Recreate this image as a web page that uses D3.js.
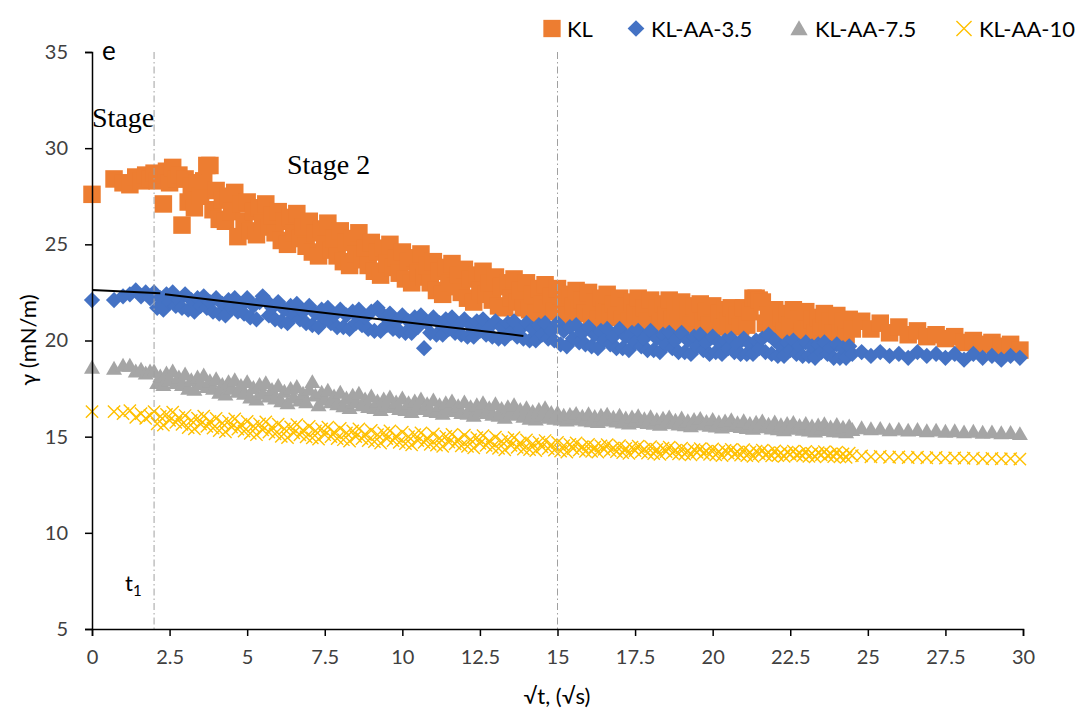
<!DOCTYPE html>
<html>
<head>
<meta charset="utf-8">
<script src="https://cdn.jsdelivr.net/npm/d3@7"></script>
<style>
  html, body { margin: 0; padding: 0; background: #fff; }
  svg { display: block; }
</style>
</head>
<body>
<svg id="chart" width="1082" height="717"></svg>
<script>
// ---------- DATA ----------
const seriesNames = ["KL", "KL-AA-3.5", "KL-AA-7.5", "KL-AA-10"];
const xTicks = [0, 2.5, 5, 7.5, 10, 12.5, 15, 17.5, 20, 22.5, 25, 27.5, 30];
const xTickLabels = ["0", "2.5", "5", "7.5", "10", "12.5", "15", "17.5", "20", "22.5", "25", "27.5", "30"];
const yTicks = [5, 10, 15, 20, 25, 30, 35];
const yTickLabels = ["5", "10", "15", "20", "25", "30", "35"];

// √t sampling shared by all series (dense up to 24.5, sparser after)
const xs = [0,0.71,1,1.22,1.41,1.58,1.73,1.87,
  2.0,2.1,2.2,2.3,2.4,2.5,2.6,2.7,2.8,2.9,
  3.0,3.1,3.2,3.3,3.4,3.5,3.6,3.7,3.8,3.9,
  4.0,4.1,4.2,4.3,4.4,4.5,4.6,4.7,4.8,4.9,
  5.0,5.1,5.2,5.3,5.4,5.5,5.6,5.7,5.8,5.9,
  6.0,6.1,6.2,6.3,6.4,6.5,6.6,6.7,6.8,6.9,
  7.0,7.1,7.2,7.3,7.4,7.5,7.6,7.7,7.8,7.9,
  8.0,8.1,8.2,8.3,8.4,8.5,8.6,8.7,8.8,8.9,
  9.0,9.1,9.2,9.3,9.4,9.5,9.6,9.7,9.8,9.9,
  10.0,10.1,10.2,10.3,10.4,10.5,10.6,10.7,10.8,10.9,
  11.0,11.1,11.2,11.3,11.4,11.5,11.6,11.7,11.8,11.9,
  12.0,12.1,12.2,12.3,12.4,12.5,12.6,12.7,12.8,12.9,
  13.0,13.1,13.2,13.3,13.4,13.5,13.6,13.7,13.8,13.9,
  14.0,14.1,14.2,14.3,14.4,14.5,14.6,14.7,14.8,14.9,
  15.0,15.1,15.2,15.3,15.4,15.5,15.6,15.7,15.8,15.9,
  16.0,16.1,16.2,16.3,16.4,16.5,16.6,16.7,16.8,16.9,
  17.0,17.1,17.2,17.3,17.4,17.5,17.6,17.7,17.8,17.9,
  18.0,18.1,18.2,18.3,18.4,18.5,18.6,18.7,18.8,18.9,
  19.0,19.1,19.2,19.3,19.4,19.5,19.6,19.7,19.8,19.9,
  20.0,20.1,20.2,20.3,20.4,20.5,20.6,20.7,20.8,20.9,
  21.0,21.1,21.2,21.3,21.4,21.5,21.6,21.7,21.8,21.9,
  22.0,22.1,22.2,22.3,22.4,22.5,22.6,22.7,22.8,22.9,
  23.0,23.1,23.2,23.3,23.4,23.5,23.6,23.7,23.8,23.9,
  24.0,24.1,24.2,24.3,24.4,24.5,
  24.8,25.1,25.4,25.7,26.0,26.3,26.6,26.9,27.2,27.5,27.8,28.1,28.4,28.7,29.0,29.3,29.6,29.9];

const yKL = [27.6,28.4,28.2,28.1,28.5,28.3,28.6,28.4,
  28.7,28.3,28.6,27.1,28.8,28.2,29.0,28.4,28.6,26.0,
  28.4,27.2,28.0,26.9,28.2,27.5,28.3,29.1,29.1,26.8,
  27.8,26.3,27.3,26.2,27.5,26.7,27.7,25.4,27.1,26.2,
  27.2,25.7,26.7,25.5,26.9,26.1,27.1,25.9,26.5,25.6,
  26.7,25.2,26.2,25.0,26.4,25.6,26.6,25.3,25.9,24.9,
  26.2,24.6,25.6,24.4,25.8,25.0,26.1,24.7,25.3,24.4,
  25.7,24.1,25.1,23.9,25.3,24.5,25.6,24.2,24.8,23.9,
  25.1,23.6,24.6,23.4,24.8,24.0,25.0,23.8,24.3,23.5,
  24.6,23.2,24.1,23.0,24.3,23.5,24.5,23.3,23.9,23.0,
  24.1,22.6,23.6,22.4,23.8,23.0,24.0,22.8,23.4,22.5,
  23.7,22.2,23.2,22.0,23.4,22.6,23.6,22.4,23.0,22.1,
  23.3,21.8,22.8,21.7,23.0,22.2,23.2,22.0,22.6,21.7,
  23.0,21.6,22.4,21.4,22.7,21.9,22.9,21.7,22.3,21.5,
  22.7,21.4,22.2,21.3,22.4,21.8,22.6,21.6,22.1,21.4,
  22.5,21.2,22.0,21.1,22.2,21.6,22.4,21.4,21.9,21.2,
  22.2,21.1,21.8,21.0,22.0,21.4,22.2,21.2,21.7,21.0,
  22.1,21.0,21.7,20.9,21.9,21.3,22.1,21.1,21.6,20.9,
  22.0,20.9,21.6,20.8,21.8,21.2,21.9,21.0,21.5,20.8,
  21.8,20.8,21.4,20.7,21.6,21.0,21.7,20.9,21.3,20.7,
  21.7,20.8,21.5,22.2,22.2,22.1,22.0,20.9,21.3,20.6,
  21.6,20.6,21.2,20.5,21.4,20.8,21.6,20.7,21.1,20.5,
  21.5,20.5,21.1,20.4,21.2,20.7,21.4,20.6,21.0,20.4,
  21.3,20.4,21.0,20.3,21.1,20.6,
  21.0,20.6,20.9,20.4,20.7,20.3,20.5,20.2,20.3,20.1,20.2,19.9,20.0,19.8,19.9,19.7,19.8,19.5];

const yAA35 = [22.1,22.1,22.3,22.4,22.6,22.3,22.5,22.2,
  22.5,21.7,22.2,21.6,22.4,22.0,22.5,21.8,22.1,21.7,
  22.4,21.6,22.1,21.5,22.2,21.8,22.3,21.7,22.0,21.5,
  22.2,21.4,21.9,21.3,22.1,21.7,22.2,21.5,21.8,21.4,
  22.2,21.2,21.8,21.1,22.0,22.3,22.1,21.3,21.7,21.1,
  22.0,21.0,21.6,20.9,21.8,21.3,21.9,21.1,21.5,20.9,
  21.8,20.8,21.4,20.7,21.6,21.1,21.7,20.9,21.3,20.7,
  21.6,20.7,21.3,20.6,21.5,20.9,21.6,20.8,21.2,20.6,
  21.5,20.5,21.7,20.5,21.3,20.8,21.4,20.6,21.0,20.5,
  21.3,20.4,21.0,20.4,21.2,20.7,21.3,19.6,20.9,20.4,
  21.2,20.3,20.9,20.3,21.1,20.6,21.2,20.4,20.8,20.3,
  21.1,20.2,20.8,20.2,21.0,20.5,21.1,20.3,20.7,20.2,
  21.0,20.1,20.7,20.1,20.9,20.4,21.0,20.2,20.6,20.1,
  20.9,20.0,20.6,20.0,20.8,20.3,20.9,20.1,20.5,20.0,
  20.9,19.8,20.5,19.7,20.7,20.1,20.8,19.9,20.4,19.8,
  20.7,19.7,20.3,19.6,20.5,20.0,20.6,19.8,20.2,19.6,
  20.6,19.6,20.2,19.5,20.4,19.9,20.5,19.7,20.1,19.5,
  20.5,19.5,20.1,19.4,20.3,19.8,20.4,19.6,20.0,19.4,
  20.4,19.4,20.0,19.3,20.2,19.7,20.3,19.5,19.9,19.3,
  20.2,19.4,19.9,19.3,20.0,19.6,20.1,19.4,19.8,19.3,
  20.1,19.3,19.8,19.3,20.0,19.6,20.1,19.4,20.3,19.3,
  20.0,19.2,19.7,19.2,19.9,19.5,20.0,19.3,19.7,19.2,
  19.9,19.2,19.7,19.1,19.8,19.4,19.9,19.3,19.6,19.1,
  19.8,19.1,19.6,19.1,19.7,19.3,
  19.4,19.2,19.4,19.2,19.3,19.1,19.4,19.2,19.3,19.1,19.3,19.0,19.3,19.1,19.2,19.0,19.2,19.1];

const yAA75 = [18.6,18.55,18.7,18.7,18.4,18.5,18.3,18.4,
  18.4,17.8,18.15,17.7,18.3,17.95,18.4,17.8,18.1,17.7,
  18.25,17.5,17.95,17.45,18.1,17.75,18.2,17.6,17.9,17.5,
  18.0,17.3,17.7,17.2,17.85,17.5,17.95,17.35,17.65,17.25,
  17.85,17.05,17.55,16.95,17.7,17.25,17.8,17.1,17.45,17.0,
  17.65,16.85,17.35,16.75,17.5,17.05,17.6,16.9,17.25,16.8,
  17.45,17.85,17.15,16.65,17.3,16.95,17.4,16.8,17.1,16.7,
  17.3,16.6,17.0,16.5,17.15,16.8,17.25,16.65,16.95,16.55,
  17.1,16.5,16.85,16.4,16.95,16.65,17.05,16.55,16.8,16.45,
  17.0,16.4,16.75,16.3,16.85,16.55,16.95,16.45,16.7,16.35,
  16.9,16.3,16.65,16.2,16.75,16.45,16.85,16.35,16.6,16.25,
  16.8,16.2,16.55,16.1,16.65,16.35,16.75,16.25,16.5,16.15,
  16.7,16.1,16.45,16.0,16.55,16.25,16.65,16.15,16.4,16.05,
  16.5,15.95,16.3,15.9,16.4,16.1,16.5,16.0,16.25,15.95,
  16.25,15.9,16.1,15.85,16.15,16.0,16.2,15.9,16.05,15.85,
  16.18,15.82,16.04,15.78,16.1,15.92,16.16,15.86,16.0,15.8,
  16.1,15.75,15.96,15.7,16.02,15.84,16.08,15.78,15.92,15.72,
  16.03,15.68,15.89,15.63,15.95,15.77,16.01,15.71,15.85,15.65,
  15.96,15.61,15.82,15.56,15.88,15.7,15.94,15.64,15.78,15.58,
  15.89,15.54,15.75,15.49,15.81,15.63,15.87,15.57,15.71,15.51,
  15.82,15.47,15.68,15.42,15.74,15.56,15.8,15.5,15.64,15.44,
  15.75,15.4,15.61,15.35,15.67,15.49,15.73,15.43,15.57,15.37,
  15.68,15.33,15.54,15.28,15.6,15.42,15.66,15.36,15.5,15.3,
  15.62,15.28,15.48,15.24,15.55,15.36,
  15.45,15.4,15.42,15.35,15.38,15.33,15.36,15.3,15.33,15.27,15.3,15.24,15.27,15.22,15.24,15.19,15.21,15.15];

const yAA10 = [16.3,16.3,16.2,16.35,16.0,16.2,15.95,16.1,
  16.3,15.67,16.05,15.6,16.16,15.85,16.27,15.74,15.99,15.64,
  16.1,15.47,15.85,15.4,15.96,15.65,16.07,15.54,15.79,15.44,
  15.95,15.32,15.7,15.25,15.81,15.5,15.92,15.39,15.64,15.29,
  15.8,15.17,15.55,15.1,15.66,15.35,15.77,15.24,15.49,15.14,
  15.65,15.02,15.4,14.95,15.51,15.2,15.62,15.09,15.34,14.99,
  15.53,14.94,15.3,14.87,15.4,15.1,15.5,15.0,15.23,14.9,
  15.43,14.84,15.2,14.77,15.3,15.0,15.4,14.9,15.13,14.8,
  15.33,14.74,15.1,14.67,15.2,14.9,15.3,14.8,15.03,14.7,
  15.23,14.64,15.0,14.57,15.1,14.8,15.2,14.7,14.93,14.6,
  15.15,14.56,14.92,14.49,15.02,14.72,15.12,14.62,14.85,14.52,
  15.08,14.49,14.85,14.42,14.95,14.65,15.05,14.55,14.78,14.45,
  14.98,14.39,14.75,14.32,14.85,14.55,14.95,14.45,14.68,14.35,
  14.83,14.33,14.63,14.27,14.72,14.47,14.8,14.38,14.58,14.3,
  14.7,14.25,14.53,14.2,14.6,14.38,14.68,14.3,14.48,14.23,
  14.6,14.24,14.46,14.2,14.52,14.34,14.58,14.28,14.42,14.22,
  14.53,14.17,14.39,14.13,14.45,14.27,14.51,14.21,14.35,14.15,
  14.48,14.12,14.34,14.08,14.4,14.22,14.46,14.16,14.3,14.1,
  14.4,14.09,14.28,14.06,14.33,14.18,14.38,14.13,14.25,14.08,
  14.36,14.05,14.24,14.02,14.29,14.14,14.34,14.09,14.21,14.04,
  14.32,14.01,14.2,13.98,14.25,14.1,14.3,14.05,14.17,14.0,
  14.26,14.01,14.16,13.98,14.2,14.08,14.25,14.04,14.13,14.0,
  14.23,13.98,14.13,13.95,14.17,14.05,14.22,14.01,14.1,13.96,
  14.2,13.95,14.1,13.92,14.14,14.02,
  14.0,13.95,13.98,13.93,13.95,13.91,13.94,13.9,13.92,13.88,13.9,13.87,13.89,13.85,13.87,13.84,13.86,13.83];

// fitted lines (stage 1 and stage 2) for KL-AA-3.5
const fit1X = [0, 2.2], fit1Y = [22.63, 22.46];
const fit2X = [2.35, 13.9], fit2Y = [22.40, 20.24];

// stage boundaries
const stageLines = [2, 15];

// ---------- CHART ----------
const colors = ["#ED7D31", "#4472C4", "#A5A5A5", "#FFC000"];
const svg = d3.select("#chart");
const x = d3.scaleLinear().domain([0, 30]).range([92, 1023]);
const y = d3.scaleLinear().domain([5, 35]).range([629, 52]);
const sans = "Lato, 'Open Sans', sans-serif";

// custom triangle symbol (width = sqrt(size))
const symTriangle = {
  draw(ctx, size) {
    const w = Math.sqrt(size), h = w * 0.87;
    ctx.moveTo(0, -h * 0.55);
    ctx.lineTo(w / 2, h * 0.45);
    ctx.lineTo(-w / 2, h * 0.45);
    ctx.closePath();
  }
};

const series = [
  { ys: yKL, sym: d3.symbol().type(d3.symbolSquare).size(306), rot: 0, fill: true },
  { ys: yAA35, sym: d3.symbol().type(d3.symbolSquare).size(132), rot: 45, fill: true },
  { ys: yAA75, sym: d3.symbol().type(symTriangle).size(256), rot: 0, fill: true },
  { ys: yAA10, sym: d3.symbol().type(d3.symbolX).size(100), rot: 0, fill: false }
];

const gData = svg.append("g");
series.forEach((s, i) => {
  const pts = xs.map((v, k) => [v, s.ys[k]]);
  gData.append("g").selectAll("path").data(pts).join("path")
    .attr("d", s.sym())
    .attr("transform", d => `translate(${x(d[0])},${y(d[1])}) rotate(${s.rot})`)
    .attr("fill", s.fill ? colors[i] : "none")
    .attr("stroke", s.fill ? "none" : colors[i])
    .attr("stroke-width", s.fill ? 0 : 1.4);
});

// fitted lines
const line = d3.line().x(d => x(d[0])).y(d => y(d[1]));
[[fit1X, fit1Y], [fit2X, fit2Y]].forEach(([fx, fy]) => {
  svg.append("path").datum(fx.map((v, k) => [v, fy[k]]))
    .attr("d", line).attr("fill", "none").attr("stroke", "#000").attr("stroke-width", 2);
});

// stage boundary lines
svg.append("g").selectAll("line").data(stageLines).join("line")
  .attr("x1", d => x(d)).attr("x2", d => x(d))
  .attr("y1", y(35)).attr("y2", y(5))
  .attr("stroke", "#A0A0A0").attr("stroke-width", 1)
  .attr("stroke-dasharray", "7,3,1.5,3");

// axes
const xAxis = d3.axisBottom(x).tickValues(xTicks).tickFormat((d, i) => xTickLabels[i]).tickSizeOuter(0).tickSize(7).tickPadding(14);
const yAxis = d3.axisLeft(y).tickValues(yTicks).tickFormat((d, i) => yTickLabels[i]).tickSizeOuter(0).tickSize(7).tickPadding(17);
const gx = svg.append("g").attr("transform", `translate(0,${y(5)})`).call(xAxis);
const gy = svg.append("g").attr("transform", `translate(${x(0)},0)`).call(yAxis);
[gx, gy].forEach(g => {
  g.select(".domain").attr("stroke", "#000").attr("stroke-width", 1.5);
  g.selectAll(".tick line").attr("stroke", "#000").attr("stroke-width", 1.5);
  g.selectAll(".tick text").attr("fill", "#404040").style("font-family", sans).style("font-size", "20px");
});

// axis titles
svg.append("text").attr("x", 557).attr("y", 704).attr("text-anchor", "middle")
  .style("font-family", sans).style("font-size", "22px").attr("fill", "#000")
  .text("√t, (√s)");
svg.append("text").attr("transform", "translate(36,340) rotate(-90)").attr("text-anchor", "middle")
  .style("font-family", sans).style("font-size", "22px").attr("fill", "#000")
  .text("γ (mN/m)");

// annotations
svg.append("text").attr("x", 102).attr("y", 60)
  .style("font-family", sans).style("font-size", "26px").attr("fill", "#000").text("e");
const serif = "'Liberation Serif', 'DejaVu Serif', serif";
svg.append("text").attr("x", 92).attr("y", 127)
  .style("font-family", serif).style("font-size", "28px").attr("fill", "#000").text("Stage");
svg.append("text").attr("x", 287).attr("y", 174)
  .style("font-family", serif).style("font-size", "28px").attr("fill", "#000").text("Stage 2");
const t1 = svg.append("text").attr("x", 125).attr("y", 591)
  .style("font-family", sans).style("font-size", "22px").attr("fill", "#000");
t1.append("tspan").text("t");
t1.append("tspan").attr("dy", 5).style("font-size", "15px").text("1");

// legend
const legend = [
  { mx: 552, tx: 567 },
  { mx: 636, tx: 651 },
  { mx: 799, tx: 815 },
  { mx: 964, tx: 979 }
];
const legSyms = [
  d3.symbol().type(d3.symbolSquare).size(300),
  d3.symbol().type(d3.symbolSquare).size(140),
  d3.symbol().type(symTriangle).size(300),
  d3.symbol().type(d3.symbolX).size(150)
];
const legRot = [0, 45, 0, 0];
const gl = svg.append("g");
legend.forEach((L, i) => {
  gl.append("path").attr("d", legSyms[i]())
    .attr("transform", `translate(${L.mx},28.5) rotate(${legRot[i]})`)
    .attr("fill", i === 3 ? "none" : colors[i])
    .attr("stroke", i === 3 ? colors[i] : "none")
    .attr("stroke-width", 1.4);
  gl.append("text").attr("x", L.tx).attr("y", 37)
    .style("font-family", sans).style("font-size", "22px").attr("fill", "#000")
    .text(seriesNames[i]);
});
</script>
</body>
</html>
